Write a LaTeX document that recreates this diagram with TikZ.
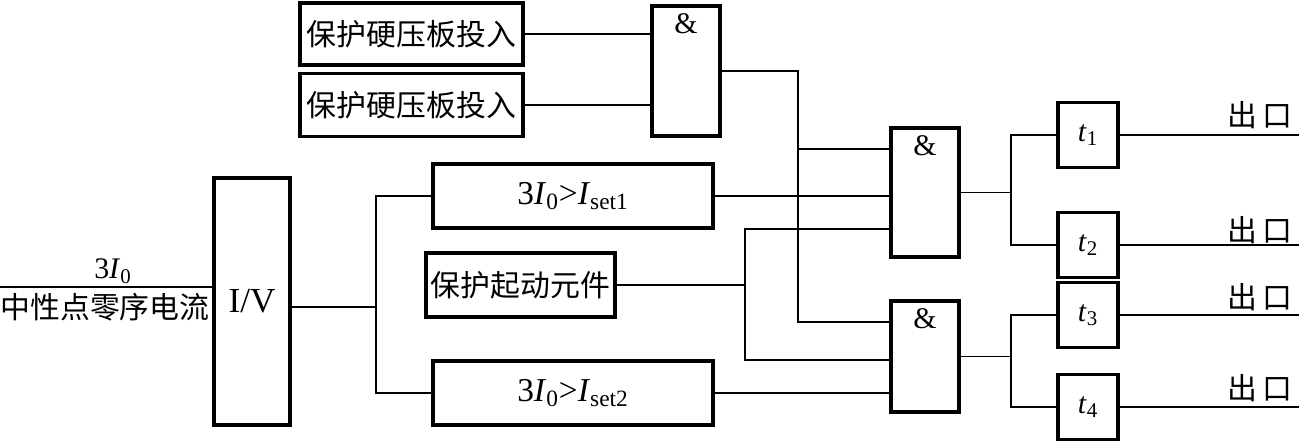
\documentclass[tikz,border=0pt]{standalone}
\usepackage{fontspec}
\setmainfont{Liberation Serif}
\newfontfamily\cjk{Noto Sans CJK SC}
\newcommand{\bigfont}{\fontsize{17pt}{20pt}\selectfont}
\newcommand{\setfont}{\fontsize{19pt}{22pt}\selectfont}
\tikzset{
  box/.style={draw, line width=1.9pt, inner sep=0pt, font=\bigfont},
  cnbox/.style={box, font=\bigfont\cjk},
  gate/.style={box, minimum width=1.36cm,
    label={[anchor=north, inner sep=0pt, yshift=-5pt, font=\bigfont]north:\&}},
  tbox/.style={box, minimum width=1.2cm, minimum height=1.3cm},
  lbl/.style={inner sep=0pt, font=\bigfont},
  wire/.style={line width=0.7pt},
}
\begin{document}
\begin{tikzpicture}
  \useasboundingbox (0,0) rectangle (25.98,-8.82);

  % input and converter
  \node[box, minimum width=1.52cm, minimum height=4.94cm, font=\fontsize{20pt}{24pt}\selectfont] (iv) at (5.04,-6.03) {I/V};
  \coordinate (inp) at (0,-5.74);
  \coordinate (split) at (7.52,-6.14);
  \node[lbl] (inlbl) at (2.26,-5.42) {3\textit{I}\textsubscript{0}};
  \node[lbl, font=\bigfont\cjk] (incn) at (2.1,-6.14) {中性点零序电流};

  % measuring and start elements
  \node[box, minimum width=5.6cm, minimum height=1.28cm, font=\setfont] (iset1) at (11.46,-3.92)
    {3\textit{I}\textsubscript{0}>\textit{I}\textsubscript{set1}};
  \node[cnbox, minimum width=3.78cm, minimum height=1.28cm] (start) at (10.41,-5.7) {保护起动元件};
  \node[box, minimum width=5.6cm, minimum height=1.28cm, font=\setfont] (iset2) at (11.46,-7.86)
    {3\textit{I}\textsubscript{0}>\textit{I}\textsubscript{set2}};

  % hard press plates
  \node[cnbox, minimum width=4.46cm, minimum height=1.24cm] (plate1) at (8.23,-0.68) {保护硬压板投入};
  \node[cnbox, minimum width=4.46cm, minimum height=1.26cm] (plate2) at (8.23,-2.1) {保护硬压板投入};

  % AND gates
  \node[gate, minimum height=2.6cm] (and0) at (13.72,-1.42) {};
  \node[gate, minimum height=2.58cm] (and1) at (18.5,-3.85) {};
  \node[gate, minimum height=2.22cm] (and2) at (18.5,-7.13) {};

  % timers
  \node[tbox] (t1) at (21.76,-2.7) {\textit{t}\textsubscript{1}};
  \node[tbox] (t2) at (21.76,-4.9) {\textit{t}\textsubscript{2}};
  \node[tbox] (t3) at (21.76,-6.3) {\textit{t}\textsubscript{3}};
  \node[tbox] (t4) at (21.76,-8.14) {\textit{t}\textsubscript{4}};

  % bus points
  \coordinate (bus) at (15.96,-6.44);
  \coordinate (tap1) at (15.96,-2.98);
  \coordinate (s0) at (14.9,-5.7);
  \coordinate (s1) at (14.9,-4.58);
  \coordinate (s2) at (14.9,-7.2);
  \coordinate (b1) at (20.22,-3.88);
  \coordinate (b2) at (20.22,-7.2);
  \coordinate (outx) at (25.98,0);

  % wires
  \draw[wire] (inp) -- (inp -| iv.west);
  \draw[wire] (iv.east |- split) -- (split);
  \draw[wire] (iset1.west) -| (split) |- (iset2.west);
  \draw[wire] (plate1.east) -- (plate1.east -| and0.west);
  \draw[wire] (plate2.east) -- (plate2.east -| and0.west);
  \draw[wire] (and0.east) -| (bus) -- (bus -| and2.west);
  \draw[wire] (tap1) -- (tap1 -| and1.west);
  \draw[wire] (iset1.east) -- (iset1.east -| and1.west);
  \draw[wire] (start.east) -- (s0);
  \draw[wire] (s1 -| and1.west) -- (s1) -- (s2) -- (s2 -| and2.west);
  \draw[wire] (iset2.east) -- (iset2.east -| and2.west);
  \draw[wire] (and1.east) -- (and1.east -| b1);
  \draw[wire] (t1.west) -| (b1) |- (t2.west);
  \draw[wire] (and2.east) -- (and2.east -| b2);
  \draw[wire] (t3.west) -| (b2) |- (t4.west);
  \foreach \t in {t1,t2,t3,t4}
    \draw[wire] (\t.east) -- (\t.east -| outx);

  % outputs
  \node[lbl, font=\bigfont\cjk] (out1) at (25.2,-2.3) {出\,口};
  \node[lbl, font=\bigfont\cjk] (out2) at (25.2,-4.6) {出\,口};
  \node[lbl, font=\bigfont\cjk] (out3) at (25.2,-5.94) {出\,口};
  \node[lbl, font=\bigfont\cjk] (out4) at (25.2,-7.76) {出\,口};
\end{tikzpicture}
\end{document}
